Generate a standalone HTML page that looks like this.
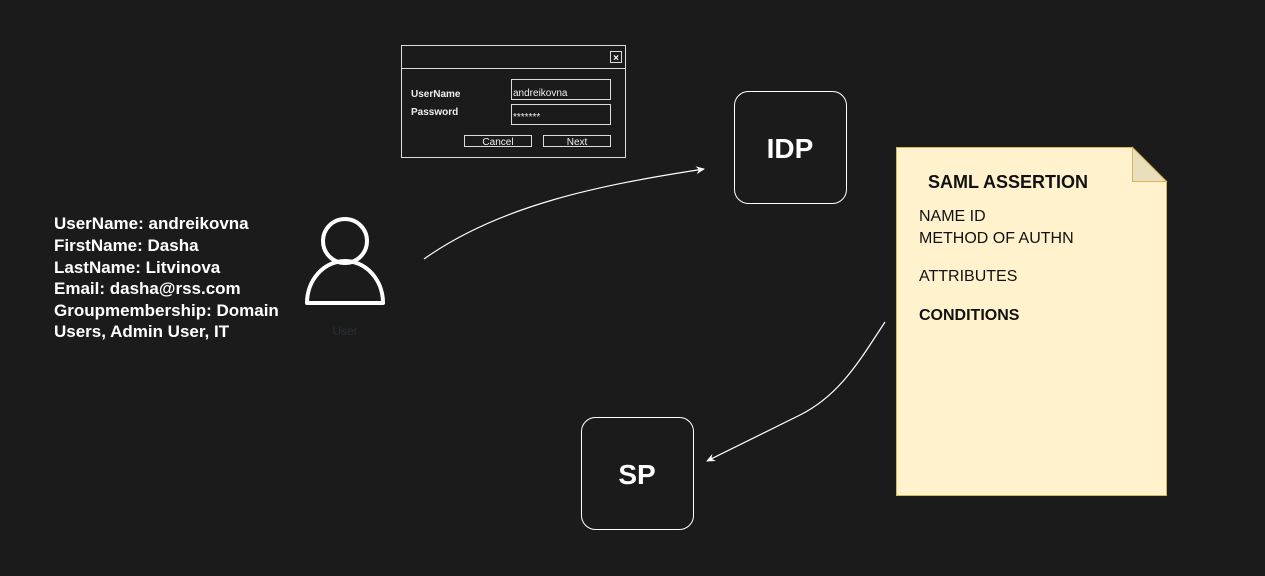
<!DOCTYPE html>
<html><head><meta charset="utf-8"><style>
html,body{margin:0;padding:0;background:#1b1b1b;width:1265px;height:576px;overflow:hidden}
svg{display:block}
text{font-family:"Comic Sans MS","Liberation Sans",sans-serif}
</style></head><body>
<svg width="1265" height="576" viewBox="0 0 1265 576">
<defs><marker id="a" markerWidth="10" markerHeight="10" refX="8" refY="5" orient="auto" markerUnits="userSpaceOnUse"><path d="M0,1 L9,5 L0,9 L3,5 Z" fill="#fff"/></marker></defs>
<!-- login dialog -->
<rect x="401.5" y="45.5" width="224" height="112" fill="#1b1b1b" stroke="#ddd" stroke-width="1"/>
<line x1="401" y1="68.5" x2="626" y2="68.5" stroke="#ddd"/>
<rect x="610.5" y="51.5" width="11" height="11" fill="none" stroke="#ddd"/>
<text x="616" y="61" fill="#fff" font-size="10" text-anchor="middle" font-weight="bold">×</text>
<text x="411" y="97" fill="#eee" font-size="10" font-weight="bold">UserName</text>
<text x="411" y="115" fill="#eee" font-size="10" font-weight="bold">Password</text>
<rect x="511.5" y="79.5" width="99" height="20" fill="none" stroke="#ddd"/>
<text x="513" y="96" fill="#eee" font-size="10">andreikovna</text>
<rect x="511.5" y="104.5" width="99" height="20" fill="none" stroke="#ddd"/>
<text x="513" y="120" fill="#eee" font-size="10">*******</text>
<rect x="464.5" y="135.5" width="67" height="11" fill="none" stroke="#ddd"/>
<text x="498" y="145" fill="#eee" font-size="10" text-anchor="middle">Cancel</text>
<rect x="543.5" y="135.5" width="67" height="11" fill="none" stroke="#ddd"/>
<text x="577" y="145" fill="#eee" font-size="10" text-anchor="middle">Next</text>
<!-- user text -->
<g fill="#fff" font-size="17" font-weight="bold">
<text x="54" y="229">UserName: andreikovna</text>
<text x="54" y="251">FirstName: Dasha</text>
<text x="54" y="273">LastName: Litvinova</text>
<text x="54" y="294">Email: dasha@rss.com</text>
<text x="54" y="316">Groupmembership: Domain</text>
<text x="54" y="337">Users, Admin User, IT</text>
</g>
<!-- user icon -->
<circle cx="345" cy="241" r="22" fill="none" stroke="#fff" stroke-width="4"/>
<path d="M307,303 A38,42 0 0 1 383,303 Z" fill="none" stroke="#fff" stroke-width="4" stroke-linejoin="round"/>
<text x="345" y="335" fill="#2a2f3a" font-size="12" text-anchor="middle">User</text>
<!-- IDP -->
<rect x="734.5" y="91.5" width="112" height="112" rx="14" fill="#1b1b1b" stroke="#fff" stroke-width="1"/>
<text x="790" y="158" fill="#fff" font-size="28" font-weight="bold" text-anchor="middle">IDP</text>
<!-- SP -->
<rect x="581.5" y="417.5" width="112" height="112" rx="14" fill="#1b1b1b" stroke="#fff" stroke-width="1"/>
<text x="637" y="484" fill="#fff" font-size="28" font-weight="bold" text-anchor="middle">SP</text>
<!-- arrows -->
<path d="M424,259 C500,205 600,185 704,169" fill="none" stroke="#fff" stroke-width="1.2" marker-end="url(#a)"/>
<path d="M885,322 C860,360 840,395 800,415 C760,435 735,447 707,461" fill="none" stroke="#fff" stroke-width="1.2" marker-end="url(#a)"/>
<!-- note -->
<path d="M896.5,147.5 L1132.5,147.5 L1166.5,181.5 L1166.5,495.5 L896.5,495.5 Z" fill="#fff2cc" stroke="#d6b656"/>
<path d="M1132.5,147.5 L1132.5,181.5 L1166.5,181.5 Z" fill="#eadfbc" stroke="#d6b656"/>
<g fill="#111" font-size="16">
<text x="928" y="188" font-size="18" font-weight="bold">SAML ASSERTION</text>
<text x="919" y="221">NAME ID</text>
<text x="919" y="243">METHOD OF AUTHN</text>
<text x="919" y="281">ATTRIBUTES</text>
<text x="919" y="320" font-weight="bold">CONDITIONS</text>
</g>
</svg>
</body></html>
